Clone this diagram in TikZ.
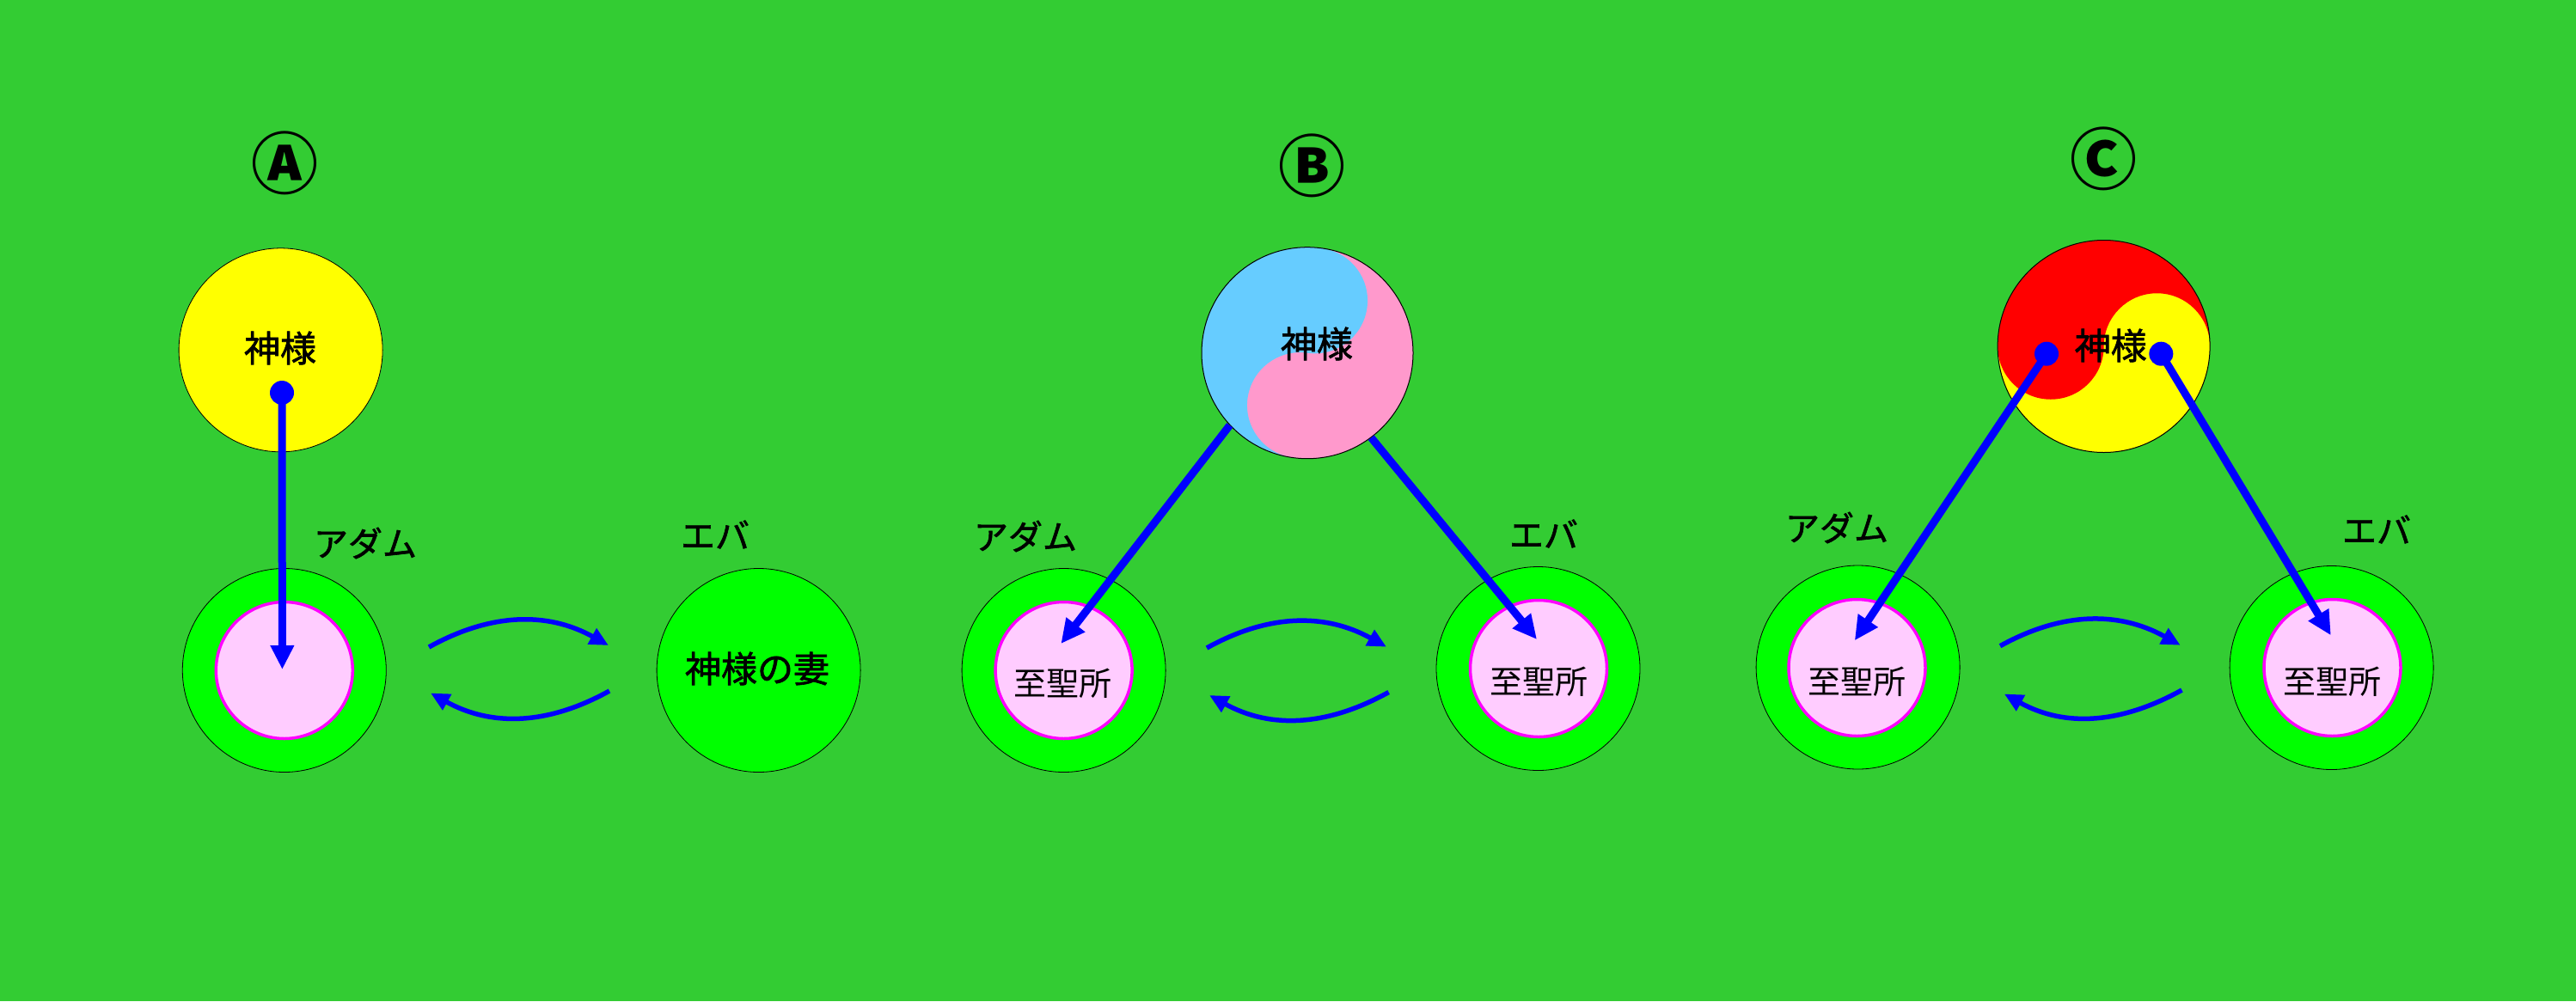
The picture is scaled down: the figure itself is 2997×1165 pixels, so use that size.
\documentclass[tikz,border=0pt]{standalone}
\usepackage{fontspec}
\newfontfamily\jp{Noto Sans CJK JP}
\newfontfamily\jpm[FakeBold=1.5]{Noto Sans CJK JP}
\usetikzlibrary{arrows.meta}
\definecolor{bg}{HTML}{33CC33}
\definecolor{ringgreen}{HTML}{00FF00}
\definecolor{godyellow}{HTML}{FFFF00}
\definecolor{pinkin}{HTML}{FFCCFF}
\definecolor{sanctborder}{HTML}{FF00FF}
\definecolor{arrowblue}{HTML}{0000FF}
\definecolor{yyblue}{HTML}{66CCFF}
\definecolor{yypink}{HTML}{FF99CC}
\definecolor{yyred}{HTML}{FF0000}
\tikzset{
  ring/.style={circle, draw=black, line width=0.8pt, fill=ringgreen, minimum size=237pt, inner sep=0pt},
  sanct/.style={circle, draw=sanctborder, line width=3.5pt, fill=pinkin, minimum size=159pt, inner sep=0pt},
  godcircle/.style={circle, draw=black, line width=0.8pt, minimum size=237pt, inner sep=0pt},
  yyoutline/.style={circle, draw=black, line width=1pt, minimum size=246pt, inner sep=0pt},
  lbl/.style={font=\jpm\fontsize{40}{40}\selectfont, inner sep=0pt},
  godtxt/.style={font=\jpm\fontsize{42}{42}\selectfont, inner sep=0pt},
  sanctxt/.style={font=\jp\fontsize{38}{38}\selectfont, inner sep=0pt},
  panelmark/.style={font=\jp\bfseries\fontsize{78}{78}\selectfont, inner sep=0pt},
  dot/.style={circle, fill=arrowblue, minimum size=28pt, inner sep=0pt},
  bigarrow/.style={draw=arrowblue, line width=9pt, -{Triangle[length=28pt,width=26pt]}},
  swaparrow/.style={draw=arrowblue, line width=5.5pt, -{Triangle[length=22pt,width=20pt]}},
}
\begin{document}
\begin{tikzpicture}[x=1pt,y=-1pt]
\fill[bg] (0,0) rectangle (2997,1165);
\useasboundingbox (0,0) rectangle (2997,1165);

% ---------------- Panel A ----------------
\node[panelmark] (markA) at (331.6,190) {Ⓐ};
\node[godcircle, fill=godyellow] (godA) at (326.6,407.3) {};
\node[godtxt] (godAt) at (326,405) {神様};
\node[ring] (adamA) at (330.8,780) {};
\node[sanct] (adamAin) at (330.8,780) {};
\node[ring] (eveA) at (882.6,780) {};
\node[godtxt] (eveAt) at (881,778) {神様の妻};
\node[lbl] (adamAl) at (425,632) {アダム};
\node[lbl] (eveAl) at (832,622) {エバ};
\node[dot] (dotA) at (328,457) {};
\coordinate (tipA) at (328.4,779);
\draw[bigarrow] (dotA.center) -- (tipA);
\coordinate (aT1) at (499,753);
\coordinate (aT2) at (708,751);
\coordinate (aB1) at (709,804);
\coordinate (aB2) at (501,806.5);
\draw[swaparrow] (aT1) to[out=29,in=151] (aT2);
\draw[swaparrow] (aB1) to[out=209,in=-29] (aB2);

% ---------------- Panel B ----------------
\node[panelmark] (markB) at (1526.7,193) {Ⓑ};
\begin{scope}[shift={(1521,410.7)}, rotate=-8, yscale=-1]
  \fill[yypink] (0,0) circle[radius=123];
  \fill[yyblue] (0,123) arc[start angle=90, end angle=270, radius=123]
     arc[start angle=270, end angle=90, radius=61.5]
     arc[start angle=-90, end angle=90, radius=61.5] -- cycle;
\end{scope}
\node[yyoutline] (godB) at (1521,410.7) {};
\node[godtxt] (godBt) at (1532,400) {神様};
\node[ring] (adamB) at (1237.6,780) {};
\node[sanct] (adamBin) at (1237.6,780) {};
\node[sanctxt] (adamBt) at (1236.5,795) {至聖所};
\node[ring] (eveB) at (1789.5,778) {};
\node[sanct] (eveBin) at (1790,778) {};
\node[sanctxt] (eveBt) at (1790.5,793) {至聖所};
\node[lbl] (adamBl) at (1193,624) {アダム};
\node[lbl] (eveBl) at (1796,621) {エバ};
\coordinate (tipBl) at (1234.4,749);
\coordinate (tipBr) at (1788,744);
\draw[bigarrow] (godB.223.5) -- (tipBl);
\draw[bigarrow] (godB.307) -- (tipBr);
\coordinate (bT1) at (1404,754);
\coordinate (bT2) at (1613,752.7);
\coordinate (bB1) at (1615.6,805.5);
\coordinate (bB2) at (1407,809);
\draw[swaparrow] (bT1) to[out=29,in=151] (bT2);
\draw[swaparrow] (bB1) to[out=209,in=-29] (bB2);

% ---------------- Panel C ----------------
\node[panelmark] (markC) at (2447.7,185) {Ⓒ};
\begin{scope}[shift={(2447.6,403)}, yscale=-1]
  \fill[godyellow] (0,0) circle[radius=123.5];
  \fill[yyred] (123.5,0) arc[start angle=0, end angle=180, radius=123.5]
     arc[start angle=180, end angle=360, radius=61.75]
     arc[start angle=180, end angle=0, radius=61.75] -- cycle;
\end{scope}
\node[yyoutline, minimum size=247pt] (godC) at (2447.6,403) {};
\node[godtxt] (godCt) at (2455.7,402) {神様};
\node[ring] (adamC) at (2161.6,776.5) {};
\node[sanct] (adamCin) at (2160.5,777) {};
\node[sanctxt] (adamCt) at (2160,793) {至聖所};
\node[ring] (eveC) at (2712.6,777) {};
\node[sanct] (eveCin) at (2713.5,777) {};
\node[sanctxt] (eveCt) at (2713.5,793) {至聖所};
\node[lbl] (adamCl) at (2137,614) {アダム};
\node[lbl] (eveCl) at (2765,616) {エバ};
\coordinate (tipCl) at (2157.8,745.3);
\coordinate (tipCr) at (2711.8,739.3);
\node[dot] (dotCl) at (2381,411.7) {};
\node[dot] (dotCr) at (2514.3,411.7) {};
\draw[bigarrow] (dotCl.center) -- (tipCl);
\draw[bigarrow] (dotCr.center) -- (tipCr);
\coordinate (cT1) at (2327,751.7);
\coordinate (cT2) at (2536.7,750.8);
\coordinate (cB1) at (2538.4,803);
\coordinate (cB2) at (2331.8,807.5);
\draw[swaparrow] (cT1) to[out=29,in=151] (cT2);
\draw[swaparrow] (cB1) to[out=209,in=-29] (cB2);
\end{tikzpicture}
\end{document}
